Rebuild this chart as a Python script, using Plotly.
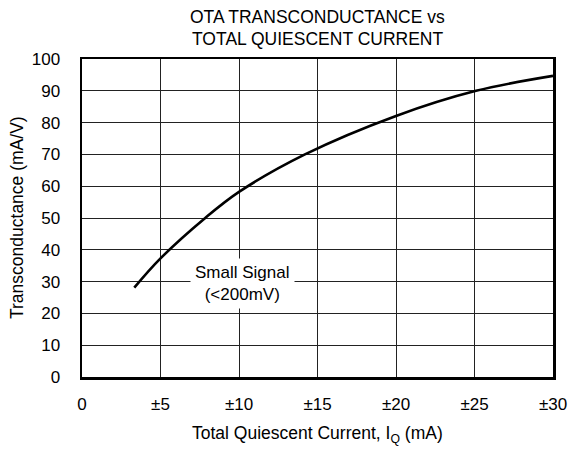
import plotly.graph_objects as go

# Data
iq_ma = [3.33, 5.0, 7.85, 10.0, 14.2, 20.0, 25.1, 30.0]
gm_ma_per_v = [28.1, 37.3, 50.0, 58.2, 70.0, 82.1, 90.0, 94.7]

x_tick_vals = [0, 5, 10, 15, 20, 25, 30]
x_tick_text = ["0", "±5", "±10", "±15", "±20", "±25", "±30"]
y_tick_vals = [0, 10, 20, 30, 40, 50, 60, 70, 80, 90, 100]

title_lines = ["OTA TRANSCONDUCTANCE vs", "TOTAL QUIESCENT CURRENT"]
x_title = "Total Quiescent Current, I<sub>Q</sub> (mA)"
y_title = "Transconductance (mA/V)"
note_text = "Small Signal<br>(&lt;200mV)"
note_x, note_y = 10.25, 29.4

FONT = "Liberation Sans, Arial, sans-serif"
W, H = 568, 449
ML, MR, MT, MB = 82, 15, 59, 72

fig = go.Figure()
fig.add_trace(go.Scatter(
    x=iq_ma, y=gm_ma_per_v, mode="lines",
    line=dict(color="black", width=2.6, shape="spline", smoothing=1.0),
    hoverinfo="skip", showlegend=False,
))

fig.add_annotation(
    x=note_x, y=note_y, xref="x", yref="y", text=note_text, showarrow=False,
    font=dict(family=FONT, size=17, color="black"), bgcolor="white",
    borderpad=4, align="center",
)

def px_to_paper_x(px):
    return (px - ML) / (W - ML - MR)

def px_to_paper_y(py):
    return (H - MB - py) / (H - MT - MB)

# Title lines
for txt, cy in zip(title_lines, [17.5, 39.0]):
    fig.add_annotation(
        x=px_to_paper_x(317.5), y=px_to_paper_y(cy), xref="paper", yref="paper",
        text=txt, showarrow=False, xanchor="center", yanchor="middle",
        font=dict(family=FONT, size=17.5, color="black"),
    )

# Axis titles
fig.add_annotation(
    x=px_to_paper_x(317.5), y=px_to_paper_y(434), xref="paper", yref="paper",
    text=x_title, showarrow=False, xanchor="center", yanchor="middle",
    font=dict(family=FONT, size=17.5, color="black"),
)
fig.add_annotation(
    x=px_to_paper_x(17), y=px_to_paper_y(218), xref="paper", yref="paper",
    text=y_title, showarrow=False, textangle=-90, xanchor="center", yanchor="middle",
    font=dict(family=FONT, size=17.5, color="black"),
)

fig.update_layout(
    width=W, height=H,
    margin=dict(l=ML, r=MR, t=MT, b=MB, autoexpand=False),
    paper_bgcolor="white", plot_bgcolor="white",
    font=dict(family=FONT, size=17, color="black"),
)

fig.update_xaxes(
    range=[0, 30], tickvals=x_tick_vals, ticktext=x_tick_text,
    showgrid=True, gridcolor="#222", gridwidth=1,
    showline=True, linecolor="black", linewidth=2.5, mirror=True,
    ticks="", ticklabelstandoff=10, zeroline=False, automargin=False,
    tickfont=dict(family=FONT, size=17),
)
fig.update_yaxes(
    range=[0, 100], tickvals=y_tick_vals,
    showgrid=True, gridcolor="#222", gridwidth=1,
    showline=True, linecolor="black", linewidth=2.5, mirror=True,
    ticks="", ticklabelstandoff=16, zeroline=False, automargin=False,
    tickfont=dict(family=FONT, size=17),
)

fig.write_html(
    "out.html",
    config={"displayModeBar": False, "staticPlot": True},
    post_script="document.body.style.margin='0';document.body.style.overflow='hidden';",
)
